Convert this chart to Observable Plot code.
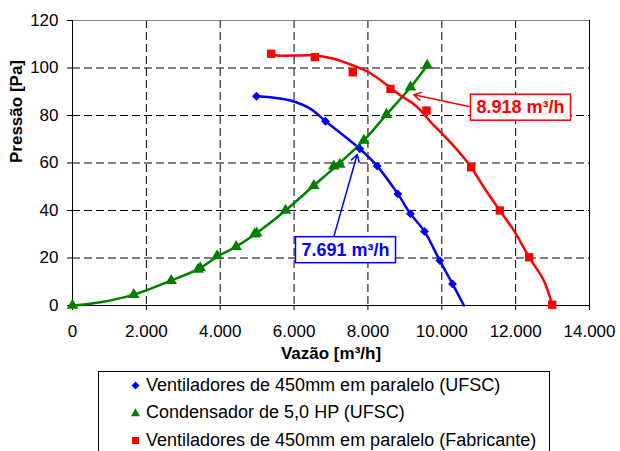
<!DOCTYPE html>
<html><head><meta charset="utf-8">
<script src="https://cdn.jsdelivr.net/npm/d3@7"></script>
<script src="https://cdn.jsdelivr.net/npm/@observablehq/plot@0.6"></script>
<style>
body{margin:0;background:#fff;font-family:"Liberation Sans",Arial,sans-serif;}
#wrap{position:relative;width:620px;height:451px;overflow:hidden;background:#fff;}
#legend{position:absolute;left:98px;top:371px;width:452px;height:100px;border:1px solid #000;box-sizing:border-box;background:#fff;}
.row{position:absolute;left:0;height:22px;display:flex;align-items:center;font-size:18px;color:#000;white-space:nowrap;}
.row svg{margin-left:32px;margin-right:6px;}
</style></head><body>
<div id="wrap"><div id="chart"></div><div id="legend"></div></div>
<script>
// ---- data ----
const seriesNames = [
  "Ventiladores de 450mm em paralelo (UFSC)",
  "Condensador de 5,0 HP (UFSC)",
  "Ventiladores de 450mm em paralelo (Fabricante)"
];
// Blue: fans in parallel (UFSC) - measured points
const blueX = [4982, 6851, 7780, 8251, 8809, 9152, 9531, 9946, 10290];
const blueY = [88.1, 77.6, 66.0, 58.7, 47.0, 38.6, 31.2, 18.9, 9.1];
// Blue trend curve
const blueLineX = [4982, 5361, 5903, 6445, 6851, 7780, 8251, 8809, 9152, 9531, 9946, 10290, 10600];
const blueLineY = [88.1, 87.7, 86.3, 82.8, 77.6, 66.0, 58.7, 47.0, 38.6, 31.2, 18.9, 9.1, 0];
// Green: condenser 5,0 HP (UFSC) - measured points
const greenX = [0, 1660, 2672, 3400, 3460, 3917, 4432, 4930, 4990, 5768, 6535, 7076, 7238, 7889, 8503, 9152, 9604];
const greenY = [0, 4.6, 10.5, 15.2, 15.8, 20.9, 24.8, 30.0, 30.5, 40.0, 50.5, 58.7, 59.4, 69.5, 80.4, 91.9, 101.1];
// Green trend curve
const greenLineX = [0, 758, 1660, 2672, 3430, 3917, 4432, 4960, 5768, 6535, 7160, 7889, 8503, 9152, 9604];
const greenLineY = [0, 1.4, 4.6, 10.5, 15.5, 20.6, 24.8, 30.2, 40.0, 50.5, 59.0, 69.5, 80.4, 91.9, 101.1];
// Red: fans in parallel (manufacturer) - points
const redX = [5380, 6562, 7590, 8611, 9586, 10795, 11571, 12366, 12989];
const redY = [106.0, 104.6, 98.2, 91.2, 82.1, 58.2, 40.0, 20.3, 0.3];
// Red trend curve
const redLineX = [5380, 5543, 6174, 6580, 7076, 7590, 8024, 8611, 8882, 9288, 9784, 10055, 10506, 10795, 11137, 11571, 11950, 12366, 12762, 12989];
const redLineY = [106.0, 105.3, 105.3, 105.3, 103.9, 101.1, 98.2, 91.7, 88.4, 84.2, 75.8, 71.6, 63.9, 58.2, 49.8, 40.0, 31.6, 20.3, 10.5, 0.3];
// Axis ticks
const xTicks = [0, 2000, 4000, 6000, 8000, 10000, 12000, 14000];
const yTicks = [0, 20, 40, 60, 80, 100, 120];
// Annotations (data coordinates)
const annoText = ["7.691 m³/h", "8.918 m³/h"];
const annoX = [7392, 12131];
const annoY = [23.4, 83.4];
const arrowX1 = [7076, 10733];
const arrowY1 = [29.0, 83.8];
const arrowX2 = [7709, 9242];
const arrowY2 = [63.6, 88.7];
const colors = ["#0000FF", "#008000", "#FF0000"];

// ---- build tables ----
const pts = (X, Y) => X.map((x, i) => ({x, y: Y[i]}));
const blue = pts(blueX, blueY), blueL = pts(blueLineX, blueLineY);
const green = pts(greenX, greenY), greenL = pts(greenLineX, greenLineY);
const red = pts(redX, redY), redL = pts(redLineX, redLineY);
const annos = annoText.map((t, i) => ({t, x: annoX[i], y: annoY[i], c: colors[i === 0 ? 0 : 2]}));
const arrows = arrowX1.map((x1, i) => ({x1, y1: arrowY1[i], x2: arrowX2[i], y2: arrowY2[i], c: colors[i === 0 ? 0 : 2]}));
const fmt = d => d3.format(",")(d).replace(/,/g, ".");

const plot = Plot.plot({
  width: 620, height: 365,
  marginTop: 20, marginBottom: 60, marginLeft: 72, marginRight: 31,
  style: {fontFamily: "'Liberation Sans', Arial, sans-serif", fontSize: "17px", color: "#000", background: "#fff", overflow: "visible"},
  x: {domain: [0, 14000], ticks: xTicks, tickFormat: fmt, tickSize: 5, tickPadding: 14, label: null},
  y: {domain: [0, 120], ticks: yTicks, tickSize: 5, tickPadding: 9, label: null},
  marks: [
    Plot.ruleX(xTicks.slice(1, -1), {stroke: "#000", strokeDasharray: "8,4", strokeWidth: 1}),
    Plot.ruleY(yTicks.slice(1, -1), {stroke: "#000", strokeDasharray: "8,4", strokeWidth: 1}),
    Plot.ruleY([120], {stroke: "#808080", strokeWidth: 1}),
    Plot.ruleX([14000], {stroke: "#000", strokeWidth: 1}),
    Plot.ruleX([0], {stroke: "#000", strokeWidth: 1}),
    Plot.ruleY([0], {stroke: "#000", strokeWidth: 1}),
    Plot.line(blueL, {x: "x", y: "y", stroke: colors[0], strokeWidth: 2.5, curve: "catmull-rom"}),
    Plot.line(greenL, {x: "x", y: "y", stroke: colors[1], strokeWidth: 2.5, curve: "catmull-rom"}),
    Plot.line(redL, {x: "x", y: "y", stroke: colors[2], strokeWidth: 2.5, curve: "catmull-rom"}),
    Plot.dot(blue, {x: "x", y: "y", symbol: "diamond2", r: 4, fill: colors[0]}),
    Plot.dot(green, {x: "x", y: "y", symbol: "triangle", r: 4.3, fill: colors[1]}),
    Plot.dot(red, {x: "x", y: "y", symbol: "square", r: 4.7, fill: colors[2]}),
    Plot.arrow(arrows, {x1: "x1", y1: "y1", x2: "x2", y2: "y2", stroke: "c", strokeWidth: 1.5, headLength: 8, clip: false}),
    Plot.text(annos, {x: "x", y: "y", text: "t", fill: "c", fontWeight: "bold", fontSize: 18, ariaDescription: "anno"}),
    Plot.text(["Vazão [m³/h]"], {frameAnchor: "bottom", lineAnchor: "middle", dy: 48, fontWeight: "bold", fontSize: 17}),
    Plot.text(["Pressão [Pa]"], {frameAnchor: "left", lineAnchor: "middle", rotate: -90, dx: -56, fontWeight: "bold", fontSize: 17})
  ]
});
document.getElementById("chart").appendChild(plot);

// white boxes with coloured borders behind annotation texts
plot.querySelectorAll('g[aria-description="anno"] text').forEach(t => {
  const b = t.getBBox();
  const fill = t.getAttribute("fill") || t.parentNode.getAttribute("fill");
  const r = document.createElementNS("http://www.w3.org/2000/svg", "rect");
  r.setAttribute("x", b.x - 6); r.setAttribute("y", b.y - 3);
  r.setAttribute("width", b.width + 12); r.setAttribute("height", b.height + 6);
  r.setAttribute("fill", "#fff"); r.setAttribute("stroke", fill); r.setAttribute("stroke-width", 1.5);
  const tr = t.getAttribute("transform");
  if (tr) r.setAttribute("transform", tr);
  t.parentNode.insertBefore(r, t);
});

// legend
const legend = document.getElementById("legend");
const sym = [
  '<svg width="9" height="9" viewBox="-4.5 -4.5 9 9"><path d="M0,-4L4,0L0,4L-4,0Z" fill="#0000FF"/></svg>',
  '<svg width="9" height="9" viewBox="-4.5 -4.5 9 9"><path d="M0,-4.2L4.5,3.8L-4.5,3.8Z" fill="#008000"/></svg>',
  '<svg width="9" height="9" viewBox="-4.5 -4.5 9 9"><rect x="-3.5" y="-3.5" width="7" height="7" fill="#FF0000"/></svg>'
];
const rowY = [13.3, 40.7, 68];
seriesNames.forEach((n, i) => {
  const d = document.createElement("div");
  d.className = "row";
  d.style.top = (rowY[i] - 11) + "px";
  d.innerHTML = sym[i] + "<span>" + n + "</span>";
  legend.appendChild(d);
});
</script>
</body></html>
